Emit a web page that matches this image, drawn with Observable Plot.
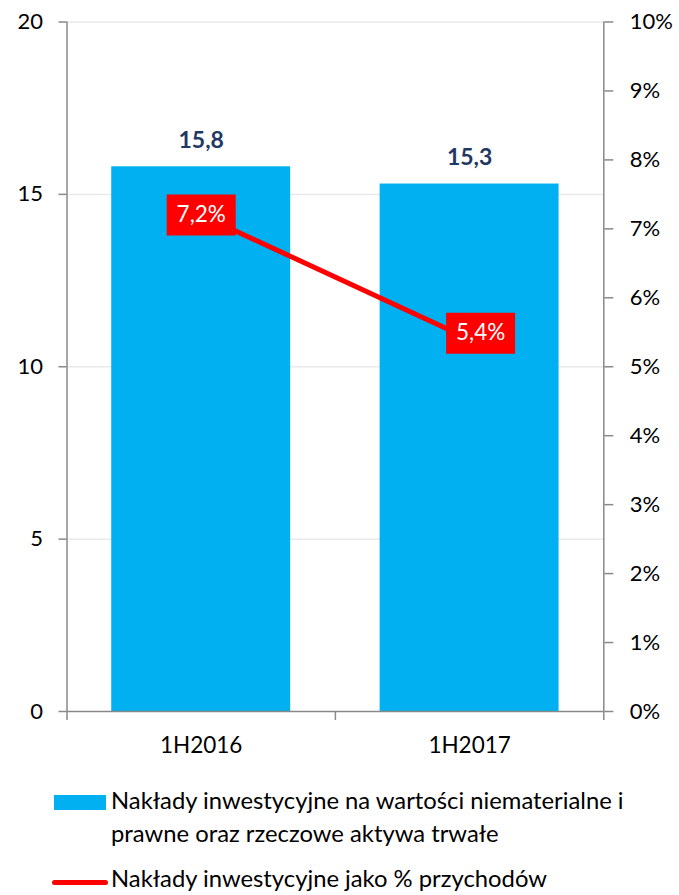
<!DOCTYPE html>
<html><head><meta charset="utf-8">
<script src="https://cdn.jsdelivr.net/npm/d3@7"></script>
<script src="https://cdn.jsdelivr.net/npm/@observablehq/plot@0.6"></script>
<style>
body{margin:0;background:#fff;font-family:Lato,"Open Sans",sans-serif;}
#wrap{position:relative;width:679px;height:895px;overflow:hidden;}
#legend{position:absolute;left:0;top:0;width:679px;height:895px;pointer-events:none;}
.sw{position:absolute;}
.lt{position:absolute;left:111px;font-size:23.8px;line-height:33px;color:#000;width:548px;}
</style></head><body>
<div id="wrap"><div id="chart"></div><div id="legend"></div></div>
<script>
const categories = ["1H2016", "1H2017"];
const capex = [15.8, 15.3];
const capexPct = [7.2, 5.4];
const leftTicks = [0, 5, 10, 15, 20];
const rightTicks = [0, 1, 2, 3, 4, 5, 6, 7, 8, 9, 10];
const barSeriesName = "Nakłady inwestycyjne na wartości niematerialne i prawne oraz rzeczowe aktywa trwałe";
const lineSeriesName = "Nakłady inwestycyjne jako % przychodów";

const leftMax = 20, rightMax = 10;
const ratio = leftMax / rightMax;
const data = categories.map((c, i) => ({cat: c, i, value: capex[i], pct: capexPct[i]}));
const fmt = v => d3.format(".1f")(v).replace(".", ",");

const boxSymbol = {draw(ctx) { ctx.rect(-34.5, -20.5, 69, 41); }};
const axisGray = "#898989";

const chart = Plot.plot({
  width: 679, height: 770,
  marginLeft: 66.5, marginRight: 75.7, marginTop: 21.5, marginBottom: 59,
  style: {fontFamily: "Lato, 'Open Sans', sans-serif", fontSize: "22px", color: "#000", background: "#fff"},
  x: {type: "linear", domain: [0, categories.length], axis: null},
  y: {domain: [0, leftMax], axis: null},
  marks: [
    Plot.gridY(leftTicks.filter(d => d > 0), {stroke: "#e9e9e9", strokeOpacity: 1, strokeWidth: 1.5}),
    Plot.rectY(data, {x1: d => d.i + 1/6, x2: d => d.i + 5/6, y: "value", fill: "#00b0f0"}),
    Plot.ruleX([0, categories.length], {stroke: axisGray, strokeWidth: 1.5}),
    Plot.ruleY([0], {stroke: axisGray, strokeWidth: 1.5}),
    Plot.axisY(leftTicks, {anchor: "left", label: null, tickSize: 8, tickPadding: 16, stroke: axisGray, strokeWidth: 1.5, fill: "#000", fontSize: 22, tickFormat: d => String(d)}),
    Plot.axisY(rightTicks.map(p => p * ratio), {anchor: "right", label: null, tickSize: 9, tickPadding: 17, stroke: axisGray, strokeWidth: 1.5, fill: "#000", fontSize: 22, tickFormat: d => (d / ratio) + "%"}),
    Plot.axisX(d3.range(categories.length + 1), {label: null, tickSize: 9, tickFormat: () => "", stroke: axisGray, strokeWidth: 1.5}),
    Plot.text(data, {x: d => d.i + 0.5, y: 0, text: "cat", dy: 34, fontSize: 22.5, fill: "#000"}),
    Plot.text(data, {x: d => d.i + 0.5, y: "value", text: d => fmt(d.value), dy: -26, fontSize: 23, fontWeight: "bold", fill: "#1f3864"}),
    Plot.line(data, {x: d => d.i + 0.5, y: d => d.pct * ratio, stroke: "#ff0000", strokeWidth: 5}),
    Plot.dot(data, {filter: d => d.i === 0, x: d => d.i + 0.5, y: d => d.pct * ratio, symbol: boxSymbol, fill: "#ff0000", stroke: "none"}),
    Plot.text(data, {filter: d => d.i === 0, x: d => d.i + 0.5, y: d => d.pct * ratio, text: d => fmt(d.pct) + "%", fill: "#fff", fontSize: 22.5}),
    Plot.dot(data, {filter: d => d.i === 1, x: d => d.i + 0.5, y: d => d.pct * ratio, dx: 11, dy: -6, symbol: boxSymbol, fill: "#ff0000", stroke: "none"}),
    Plot.text(data, {filter: d => d.i === 1, x: d => d.i + 0.5, y: d => d.pct * ratio, dx: 11, dy: -6, text: d => fmt(d.pct) + "%", fill: "#fff", fontSize: 22.5})
  ]
});
document.getElementById("chart").appendChild(chart);

const legend = document.getElementById("legend");
legend.innerHTML = `
  <div class="sw" style="left:54px;top:795px;width:52px;height:15px;background:#00b0f0"></div>
  <div class="lt" style="top:784px">${barSeriesName}</div>
  <div class="sw" style="left:52px;top:879.5px;width:56px;height:5px;background:#ff0000;border-radius:3px"></div>
  <div class="lt" style="top:862px">${lineSeriesName}</div>
`;
</script>
</body></html>
